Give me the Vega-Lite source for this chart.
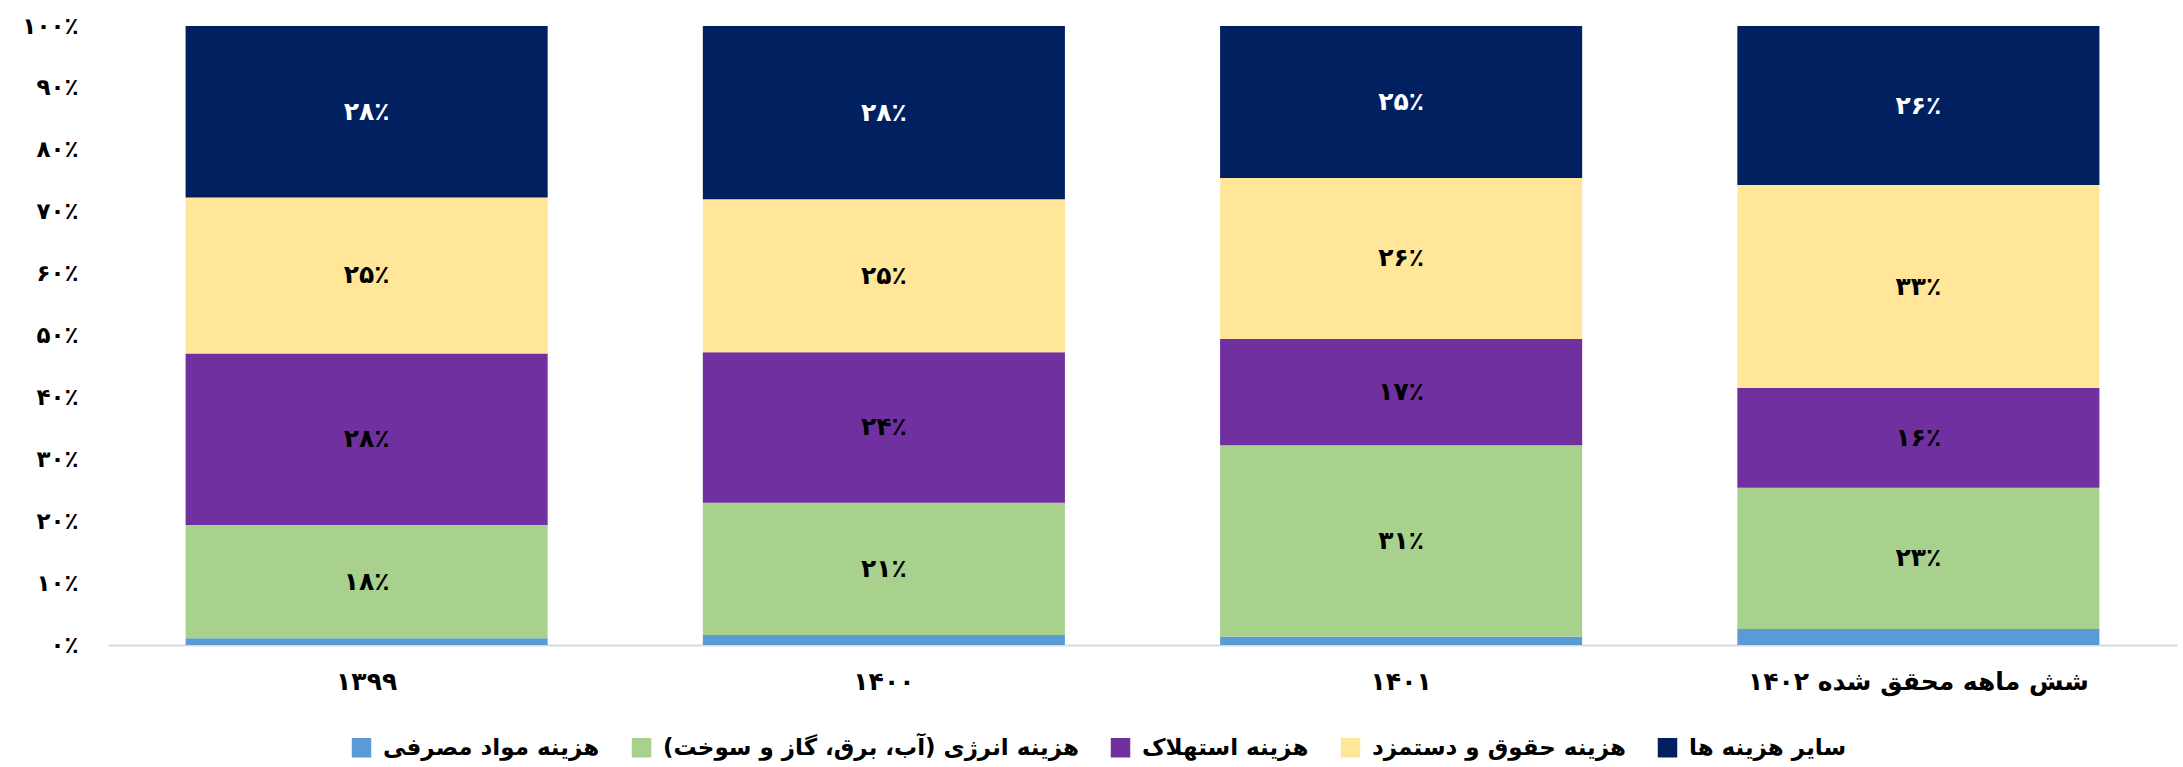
{
  "$schema": "https://vega.github.io/schema/vega-lite/v6.json",
  "width": 2069,
  "height": 619,
  "autosize": {"type": "none"},
  "padding": {"left": 108, "top": 26, "right": 6, "bottom": 122},
  "background": "white",
  "config": {
    "view": {"stroke": null},
    "font": "DejaVu Sans"
  },
  "data": {
    "values": [
      {"year": "۱۳۹۹", "cat": "هزینه مواد مصرفی", "k": 1, "value": 1.1, "label": ""},
      {"year": "۱۳۹۹", "cat": "هزینه انرژی (آب، برق، گاز و سوخت)", "k": 2, "value": 18.3, "label": "۱۸٪"},
      {"year": "۱۳۹۹", "cat": "هزینه استهلاک", "k": 3, "value": 27.7, "label": "۲۸٪"},
      {"year": "۱۳۹۹", "cat": "هزینه حقوق و دستمزد", "k": 4, "value": 25.2, "label": "۲۵٪"},
      {"year": "۱۳۹۹", "cat": "سایر هزینه ها", "k": 5, "value": 27.7, "label": "۲۸٪"},
      {"year": "۱۴۰۰", "cat": "هزینه مواد مصرفی", "k": 1, "value": 1.6, "label": ""},
      {"year": "۱۴۰۰", "cat": "هزینه انرژی (آب، برق، گاز و سوخت)", "k": 2, "value": 21.4, "label": "۲۱٪"},
      {"year": "۱۴۰۰", "cat": "هزینه استهلاک", "k": 3, "value": 24.3, "label": "۲۴٪"},
      {"year": "۱۴۰۰", "cat": "هزینه حقوق و دستمزد", "k": 4, "value": 24.7, "label": "۲۵٪"},
      {"year": "۱۴۰۰", "cat": "سایر هزینه ها", "k": 5, "value": 28.0, "label": "۲۸٪"},
      {"year": "۱۴۰۱", "cat": "هزینه مواد مصرفی", "k": 1, "value": 1.35, "label": ""},
      {"year": "۱۴۰۱", "cat": "هزینه انرژی (آب، برق، گاز و سوخت)", "k": 2, "value": 30.9, "label": "۳۱٪"},
      {"year": "۱۴۰۱", "cat": "هزینه استهلاک", "k": 3, "value": 17.2, "label": "۱۷٪"},
      {"year": "۱۴۰۱", "cat": "هزینه حقوق و دستمزد", "k": 4, "value": 26.0, "label": "۲۶٪"},
      {"year": "۱۴۰۱", "cat": "سایر هزینه ها", "k": 5, "value": 24.55, "label": "۲۵٪"},
      {"year": "شش ماهه محقق شده ۱۴۰۲", "cat": "هزینه مواد مصرفی", "k": 1, "value": 2.6, "label": ""},
      {"year": "شش ماهه محقق شده ۱۴۰۲", "cat": "هزینه انرژی (آب، برق، گاز و سوخت)", "k": 2, "value": 22.8, "label": "۲۳٪"},
      {"year": "شش ماهه محقق شده ۱۴۰۲", "cat": "هزینه استهلاک", "k": 3, "value": 16.1, "label": "۱۶٪"},
      {"year": "شش ماهه محقق شده ۱۴۰۲", "cat": "هزینه حقوق و دستمزد", "k": 4, "value": 32.8, "label": "۳۳٪"},
      {"year": "شش ماهه محقق شده ۱۴۰۲", "cat": "سایر هزینه ها", "k": 5, "value": 25.7, "label": "۲۶٪"}
    ]
  },
  "encoding": {
    "x": {
      "field": "year",
      "type": "nominal",
      "sort": null,
      "scale": {"paddingInner": 0.3, "paddingOuter": 0.15},
      "axis": {
        "title": null,
        "labelAngle": 0,
        "ticks": false,
        "domainColor": "#d9d9d9",
        "domainWidth": 2,
        "labelPadding": 24,
        "labelFontSize": 25,
        "labelFontWeight": "bold",
        "labelColor": "black",
        "labelLimit": 600
      }
    },
    "order": {"field": "k", "type": "quantitative", "sort": "ascending"}
  },
  "layer": [
    {
      "mark": {"type": "bar"},
      "encoding": {
        "y": {
          "field": "value",
          "type": "quantitative",
          "stack": "zero",
          "scale": {"domain": [0, 100], "nice": false},
          "axis": {
            "title": null,
            "values": [0, 10, 20, 30, 40, 50, 60, 70, 80, 90, 100],
            "labelExpr": "['۰٪','۱۰٪','۲۰٪','۳۰٪','۴۰٪','۵۰٪','۶۰٪','۷۰٪','۸۰٪','۹۰٪','۱۰۰٪'][round(datum.value/10)]",
            "grid": false,
            "domain": false,
            "ticks": false,
            "labelPadding": 30,
            "labelFontSize": 23,
            "labelFontWeight": "bold",
            "labelColor": "black"
          }
        },
        "color": {
          "field": "cat",
          "type": "nominal",
          "sort": ["هزینه مواد مصرفی", "هزینه انرژی (آب، برق، گاز و سوخت)", "هزینه استهلاک", "هزینه حقوق و دستمزد", "سایر هزینه ها"],
          "scale": {
            "domain": ["هزینه مواد مصرفی", "هزینه انرژی (آب، برق، گاز و سوخت)", "هزینه استهلاک", "هزینه حقوق و دستمزد", "سایر هزینه ها"],
            "range": ["#5B9BD5", "#A9D18E", "#7030A0", "#FFE699", "#002060"]
          },
          "legend": {
            "title": null,
            "orient": "none",
            "legendX": 242,
            "legendY": 710,
            "direction": "horizontal",
            "symbolType": "square",
            "symbolSize": 380,
            "symbolStrokeWidth": 0,
            "labelFontSize": 23,
            "labelFontWeight": "bold",
            "labelColor": "black",
            "labelOffset": 10,
            "columnPadding": 30,
            "labelLimit": 600
          }
        }
      }
    },
    {
      "mark": {"type": "text", "fontSize": 25, "fontWeight": "bold", "baseline": "middle", "align": "center"},
      "encoding": {
        "y": {"field": "value", "type": "quantitative", "stack": "zero", "bandPosition": 0.5},
        "detail": {"field": "cat", "type": "nominal"},
        "text": {"field": "label"},
        "color": {
          "condition": {"test": "datum.cat === 'سایر هزینه ها'", "value": "white"},
          "value": "black"
        }
      }
    }
  ]
}
